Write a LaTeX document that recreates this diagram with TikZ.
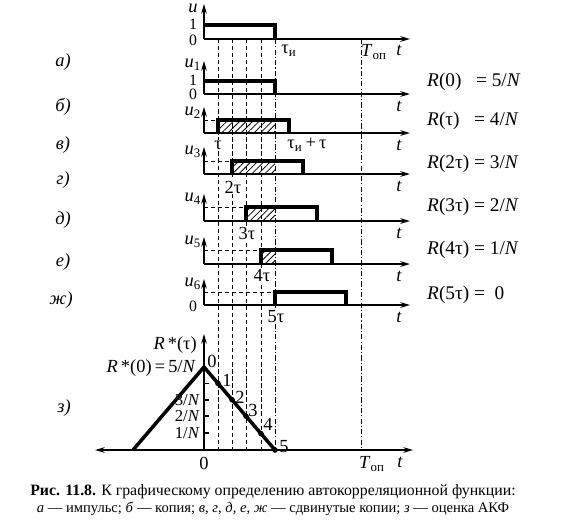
\documentclass[tikz,border=0pt]{standalone}
\usepackage{fontspec}
\setmainfont{Liberation Serif}
\usepackage{tikz}
\usetikzlibrary{arrows.meta}
\usetikzlibrary{patterns.meta}
\tikzset{
  axis/.style={line width=0.8pt, -{Stealth[length=5.5pt, width=3.2pt]}},
  pulse/.style={line width=2pt},
  gridline/.style={line width=0.5pt, dash pattern=on 2.4pt off 1.6pt},
  griddot/.style={line width=0.5pt, dash pattern=on 3pt off 1.2pt on 0.6pt off 1.2pt},
  hatch/.style={pattern={Lines[angle=45, distance=2.6pt, line width=0.45pt]}},
  lbl/.style={fill=white, inner sep=0.5pt},
  rval/.style={anchor=west, font=\fontsize{11}{13}\selectfont},
  small/.style={font=\fontsize{9.5}{11}\selectfont},
  level/.style={font=\fontsize{9}{10}\selectfont, inner sep=0pt}
}

\begin{document}
\begin{tikzpicture}[x=0.02cm, y=-0.02cm, every node/.style={font=\fontsize{10.5}{12}\selectfont, inner sep=0.5pt}]

\useasboundingbox (0,0) rectangle (566,529);

% vertical guides
\draw [gridline] (218,39) -- (218,450);
\draw [gridline] (232,39) -- (232,450);
\draw [gridline] (246,39) -- (246,450);
\draw [gridline] (261,39) -- (261,450);
\draw [griddot] (275,39) -- (275,450);
\draw [griddot] (361,39) -- (361,450);

% a) pulse
\begin{scope} [shift={(0,39)}]
    \draw [axis] (204,0) -- (410,0);
    \draw [axis] (204,0) -- (204,-35);
    \draw [pulse] (204,-14) -- (275,-14) -- (275,0);
    \node (ua) at (193,-31) {\textit{u}};
    \node [level] (onea) at (193,-15) {1};
    \node [level] (zeroa) at (193,1) {0};
    \node (tauia) at (289,12) {τ\textsubscript{и}};
    \node (Top) at (374,13) {\textit{T}\textsubscript{оп}};
    \node (ta) at (399,11) {\textit{t}};
    \node (la) at (63,23) {\textit{а)}};
\end{scope}

% b) copy
\begin{scope} [shift={(0,94)}]
    \draw [axis] (204,0) -- (410,0);
    \draw [axis] (204,0) -- (204,-33);
    \draw [pulse] (204,-13) -- (275,-13) -- (275,0);
    \node (ub) at (193,-29) {\textit{u}\textsubscript{1}};
    \node [level] (oneb) at (193,-14) {1};
    \node [level] (zerob) at (193,0.5) {0};
    \node (tb) at (399,12) {\textit{t}};
    \node (lb) at (63,13) {\textit{б)}};
\end{scope}

% c) shift by tau
\begin{scope} [shift={(0,133)}]
    \draw [axis] (204,0) -- (410,0);
    \draw [axis] (204,0) -- (204,-26);
    \fill [hatch] (218,-13) rectangle (275,0);
    \draw [gridline] (204,-13) -- (218,-13);
    \draw [pulse] (218,0) -- (218,-13) -- (289,-13) -- (289,0);
    \node (uc) at (193,-20) {\textit{u}\textsubscript{2}};
    \node [lbl] (tauc) at (218,12) {τ};
    \node [lbl] (tauic) at (307,12) {τ\textsubscript{и}\,+\,τ};
    \node (tc) at (399,12) {\textit{t}};
    \node (lc) at (63,12) {\textit{в)}};
\end{scope}

% d) shift by 2 tau
\begin{scope} [shift={(0,174)}]
    \draw [axis] (204,0) -- (410,0);
    \draw [axis] (204,0) -- (204,-27);
    \fill [hatch] (232,-13) rectangle (275,0);
    \draw [gridline] (204,-13) -- (232,-13);
    \draw [pulse] (232,0) -- (232,-13) -- (303,-13) -- (303,0);
    \node (ud) at (193,-22) {\textit{u}\textsubscript{3}};
    \node [lbl] (taud) at (233,13) {2τ};
    \node (td) at (399,12) {\textit{t}};
    \node (ld) at (63,6) {\textit{г)}};
\end{scope}

% e) shift by 3 tau
\begin{scope} [shift={(0,221)}]
    \draw [axis] (204,0) -- (410,0);
    \draw [axis] (204,0) -- (204,-27);
    \fill [hatch] (246,-14) rectangle (275,0);
    \draw [gridline] (204,-14) -- (246,-14);
    \draw [pulse] (246,0) -- (246,-14) -- (317,-14) -- (317,0);
    \node (ue) at (193,-22) {\textit{u}\textsubscript{4}};
    \node [lbl] (taue) at (247,12) {3τ};
    \node (te) at (399,12) {\textit{t}};
    \node (le) at (63,-1) {\textit{д)}};
\end{scope}

% f) shift by 4 tau
\begin{scope} [shift={(0,264)}]
    \draw [axis] (204,0) -- (410,0);
    \draw [axis] (204,0) -- (204,-27);
    \fill [hatch] (261,-14) rectangle (275,0);
    \draw [gridline] (204,-14) -- (261,-14);
    \draw [pulse] (261,0) -- (261,-14) -- (332,-14) -- (332,0);
    \node (uf) at (193,-22) {\textit{u}\textsubscript{5}};
    \node [lbl] (tauf) at (262,12) {4τ};
    \node (tf) at (399,12) {\textit{t}};
    \node (lf) at (63,-2) {\textit{е)}};
\end{scope}

% g) shift by 5 tau
\begin{scope} [shift={(0,305)}]
    \draw [axis] (204,0) -- (410,0);
    \draw [axis] (204,0) -- (204,-26);
    \draw [gridline] (204,-13) -- (275,-13);
    \draw [pulse] (275,0) -- (275,-13) -- (346,-13) -- (346,0);
    \node (ug) at (193,-21) {\textit{u}\textsubscript{6}};
    \node [level] (zerog) at (193,1) {0};
    \node [lbl] (taug) at (276,12) {5τ};
    \node (tg) at (399,12) {\textit{t}};
    \node (lg) at (61,-5) {\textit{ж)}};
\end{scope}

% R values
\node [rval] (R0) at (426,82) {\textit{R}(0)\ \ \ = 5/\textit{N}};
\node [rval] (R1) at (426,121) {\textit{R}(τ)\ \ \ = 4/\textit{N}};
\node [rval] (R2) at (426,164) {\textit{R}(2τ) = 3/\textit{N}};
\node [rval] (R3) at (426,207) {\textit{R}(3τ) = 2/\textit{N}};
\node [rval] (R4) at (426,250) {\textit{R}(4τ) = 1/\textit{N}};
\node [rval] (R5) at (426,295) {\textit{R}(5τ) =\ \ 0};

% z) estimate of the ACF
\draw [axis, {Stealth[length=5.5pt, width=3.2pt]}-{Stealth[length=5.5pt, width=3.2pt]}] (95,450) -- (413,450);
\draw [axis] (204,450) -- (204,334);
\draw [pulse, line join=round] (133,450) -- (204,367) -- (275,450);

\coordinate (P0) at (204,367);
\coordinate (P1) at (218,383.4);
\coordinate (P2) at (232,399.7);
\coordinate (P3) at (246,416.1);
\coordinate (P4) at (261,433.6);
\coordinate (P5) at (275,450);

\fill (P1) circle [radius=1.6pt];
\fill (P2) circle [radius=1.6pt];
\fill (P3) circle [radius=1.6pt];
\fill (P4) circle [radius=1.6pt];
\fill (P5) circle [radius=1.6pt];

\node (n0) at ([shift={(8,-6)}]P0) {0};
\node (n1) at ([shift={(9,-3)}]P1) {1};
\node (n2) at ([shift={(8,-2)}]P2) {2};
\node (n3) at ([shift={(7,-6)}]P3) {3};
\node (n4) at ([shift={(7,-9)}]P4) {4};
\node (n5) at ([shift={(9,-3)}]P5) {5};

\draw [line width=0.7pt] (204,383.4) -- (209,383.4);
\draw [line width=0.7pt] (204,400) -- (209,400);
\draw [line width=0.7pt] (204,416) -- (209,416);
\draw [line width=0.7pt] (204,433) -- (209,433);

\node [small, anchor=east] (y3) at (201,400) {3/\textit{N}};
\node [small, anchor=east] (y2) at (201,416) {2/\textit{N}};
\node [small, anchor=east] (y1) at (201,433) {1/\textit{N}};
\node [anchor=east] (Rpeak) at (197,368) {\textit{R}\,*(0)\,=\,5/\textit{N}};
\node [anchor=east] (Rtau) at (198,345) {\textit{R}\,*(τ)};
\node (zeroz) at (204,463) {0};
\node (Topz) at (372,464) {\textit{T}\textsubscript{оп}};
\node (tz) at (400,462) {\textit{t}};
\node (lz) at (64,408) {\textit{з)}};

% caption
\node [font=\fontsize{9}{11}\selectfont] (cap1) at (273,492) {\textbf{Рис. 11.8.} К графическому определению автокорреляционной функции:};
\node [font=\fontsize{8.3}{10}\selectfont] (cap2) at (273,509) {\textit{а} — импульс; \textit{б} — копия; \textit{в}, \textit{г}, \textit{д}, \textit{е}, \textit{ж} — сдвинутые копии; \textit{з} — оценка АКФ};

\end{tikzpicture}
\end{document}
